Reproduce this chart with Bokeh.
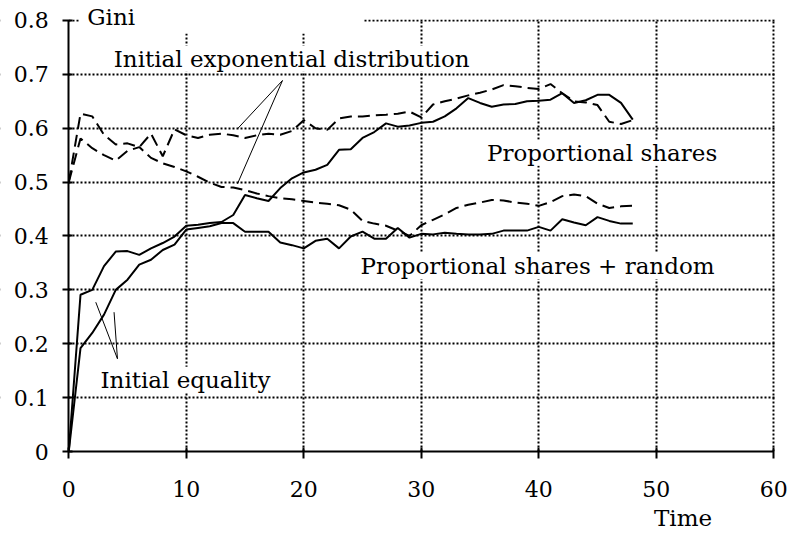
from bokeh.plotting import figure
from bokeh.models import Label, FixedTicker, Range1d, BoxAnnotation
from bokeh.embed import file_html
from bokeh.resources import INLINE

# ---------------- data ----------------
TIME = list(range(49))

# Initial equality, proportional shares (upper solid)
PROP_EQUAL = [0.0, 0.291, 0.300, 0.344, 0.371, 0.372, 0.365, 0.377, 0.387, 0.399,
              0.419, 0.421, 0.424, 0.426, 0.439, 0.476, 0.470, 0.465, 0.489, 0.507,
              0.518, 0.523, 0.532, 0.560, 0.561, 0.582, 0.593, 0.609, 0.603, 0.605,
              0.610, 0.612, 0.622, 0.637, 0.656, 0.647, 0.640, 0.644, 0.645, 0.650,
              0.651, 0.653, 0.665, 0.647, 0.652, 0.662, 0.662, 0.647, 0.616]

# Initial equality, proportional shares + random (lower solid)
RANDOM_EQUAL = [0.0, 0.192, 0.220, 0.254, 0.300, 0.319, 0.347, 0.356, 0.374, 0.384,
                0.412, 0.415, 0.418, 0.424, 0.424, 0.408, 0.408, 0.408, 0.388, 0.383,
                0.377, 0.391, 0.395, 0.377, 0.399, 0.408, 0.395, 0.395, 0.415, 0.397,
                0.404, 0.403, 0.406, 0.404, 0.403, 0.403, 0.404, 0.410, 0.410, 0.410,
                0.417, 0.410, 0.431, 0.425, 0.420, 0.435, 0.428, 0.423, 0.423]

# Initial exponential distribution, proportional shares (upper dashed)
PROP_EXP = [0.500, 0.627, 0.622, 0.588, 0.570, 0.572, 0.565, 0.590, 0.548, 0.598,
            0.587, 0.582, 0.588, 0.590, 0.587, 0.582, 0.587, 0.590, 0.588, 0.595,
            0.615, 0.600, 0.597, 0.618, 0.622, 0.622, 0.624, 0.625, 0.627, 0.631,
            0.620, 0.644, 0.650, 0.655, 0.661, 0.666, 0.672, 0.680, 0.678, 0.675,
            0.673, 0.682, 0.665, 0.650, 0.648, 0.643, 0.612, 0.608, 0.615]

# Initial exponential distribution, proportional shares + random (lower dashed)
RANDOM_EXP = [0.500, 0.581, 0.563, 0.550, 0.540, 0.558, 0.565, 0.545, 0.535, 0.528,
              0.520, 0.510, 0.499, 0.491, 0.490, 0.485, 0.479, 0.474, 0.470, 0.468,
              0.465, 0.462, 0.460, 0.457, 0.449, 0.428, 0.423, 0.419, 0.410, 0.400,
              0.420, 0.430, 0.440, 0.452, 0.458, 0.462, 0.467, 0.466, 0.462, 0.460,
              0.456, 0.463, 0.474, 0.477, 0.474, 0.460, 0.452, 0.455, 0.456]

X_TICKS = [0, 10, 20, 30, 40, 50, 60]
Y_TICKS = [0, 0.1, 0.2, 0.3, 0.4, 0.5, 0.6, 0.7, 0.8]
Y_TICK_LABELS = ["0", "0.1", "0.2", "0.3", "0.4", "0.5", "0.6", "0.7", "0.8"]

Y_TITLE = "Gini"
X_TITLE = "Time"
LABEL_EXP = "Initial exponential distribution"
LABEL_EQ = "Initial equality"
LABEL_PROP = "Proportional shares"
LABEL_RAND = "Proportional shares + random"

# leader lines (annotation pointers)
EXP_LEADER_XS = [[18.19, 14.36], [18.19, 14.36]]
EXP_LEADER_YS = [[0.6886, 0.599], [0.6886, 0.4969]]
EQ_LEADER_XS = [[4.145, 2.30], [4.145, 3.855]]
EQ_LEADER_YS = [[0.1721, 0.2771], [0.1721, 0.2586]]

# visible window: the frame fills the canvas, axes sit at 0
X_VIEW = (-5.809, 61.255)
Y_VIEW = (-0.14849, 0.83712)

FONT = "DejaVu Serif"
FS_TICK = "22px"
FS_ANN = "23px"

# ---------------- figure ----------------
p = figure(width=788, height=531, output_backend="svg", toolbar_location=None,
           x_range=Range1d(*X_VIEW), y_range=Range1d(*Y_VIEW),
           min_border_left=0, min_border_right=0, min_border_top=0,
           min_border_bottom=0)
p.background_fill_color = "white"
p.border_fill_color = "white"
p.outline_line_color = None

xa = p.xaxis[0]
ya = p.yaxis[0]
xa.fixed_location = 0
ya.fixed_location = 0
xa.bounds = (X_TICKS[0], X_TICKS[-1])
ya.bounds = (Y_TICKS[0], Y_TICKS[-1])
xa.ticker = FixedTicker(ticks=X_TICKS)
ya.ticker = FixedTicker(ticks=Y_TICKS)
ya.major_label_overrides = {t: s for t, s in zip(Y_TICKS, Y_TICK_LABELS)}

for ax in (xa, ya):
    ax.axis_line_color = "black"
    ax.axis_line_width = 2
    ax.major_tick_line_color = "black"
    ax.major_tick_line_width = 2
    ax.major_tick_in = 4
    ax.minor_tick_line_color = None
    ax.major_label_text_font = FONT
    ax.major_label_text_font_size = FS_TICK
    ax.major_label_text_color = "black"
xa.major_tick_out = 7
xa.major_label_standoff = 22
ya.major_tick_out = 6
ya.major_label_standoff = 14

p.xgrid.ticker = FixedTicker(ticks=X_TICKS[1:])
p.ygrid.ticker = FixedTicker(ticks=Y_TICKS[1:])
p.grid.grid_line_color = "black"
p.grid.grid_line_width = 2
p.grid.grid_line_dash = "2 2"

# white masks so grid lines stop at the chart edges
MASK = dict(fill_color="white", fill_alpha=1.0, line_color=None, level="glyph")
p.add_layout(BoxAnnotation(bottom=0.802, **MASK))
p.add_layout(BoxAnnotation(top=0, **MASK))
p.add_layout(BoxAnnotation(left=60.1, **MASK))
p.add_layout(BoxAnnotation(right=0, **MASK))
p.add_layout(BoxAnnotation(left=0.9, right=25.1, bottom=0.776, **MASK))

# ---------------- series ----------------
p.line(TIME, PROP_EQUAL, line_color="black", line_width=2)
p.line(TIME, RANDOM_EQUAL, line_color="black", line_width=2)
p.line(TIME, PROP_EXP, line_color="black", line_width=2, line_dash="12 6")
p.line(TIME, RANDOM_EXP, line_color="black", line_width=2, line_dash="12 6")

p.multi_line(EXP_LEADER_XS, EXP_LEADER_YS, line_color="black", line_width=1)
p.multi_line(EQ_LEADER_XS, EQ_LEADER_YS, line_color="black", line_width=1)


def lab(x, y, text, align="left", bg="white", size=FS_ANN):
    l = Label(x=x, y=y, text=text, text_font=FONT, text_font_size=size,
              text_color="black", text_align=align, text_baseline="alphabetic",
              background_fill_color=bg)
    p.add_layout(l)
    return l


lab(3.83, 0.7291, LABEL_EXP)
lab(2.70, 0.1333, LABEL_EQ)
lab(55.19, 0.5546, LABEL_PROP, align="right")
lab(54.96, 0.3443, LABEL_RAND, align="right")
lab(1.57, 0.8065, Y_TITLE, bg=None)
lab(52.28, -0.1234, X_TITLE, align="center", bg=None)

open("out.html", "w").write(file_html(p, INLINE))
